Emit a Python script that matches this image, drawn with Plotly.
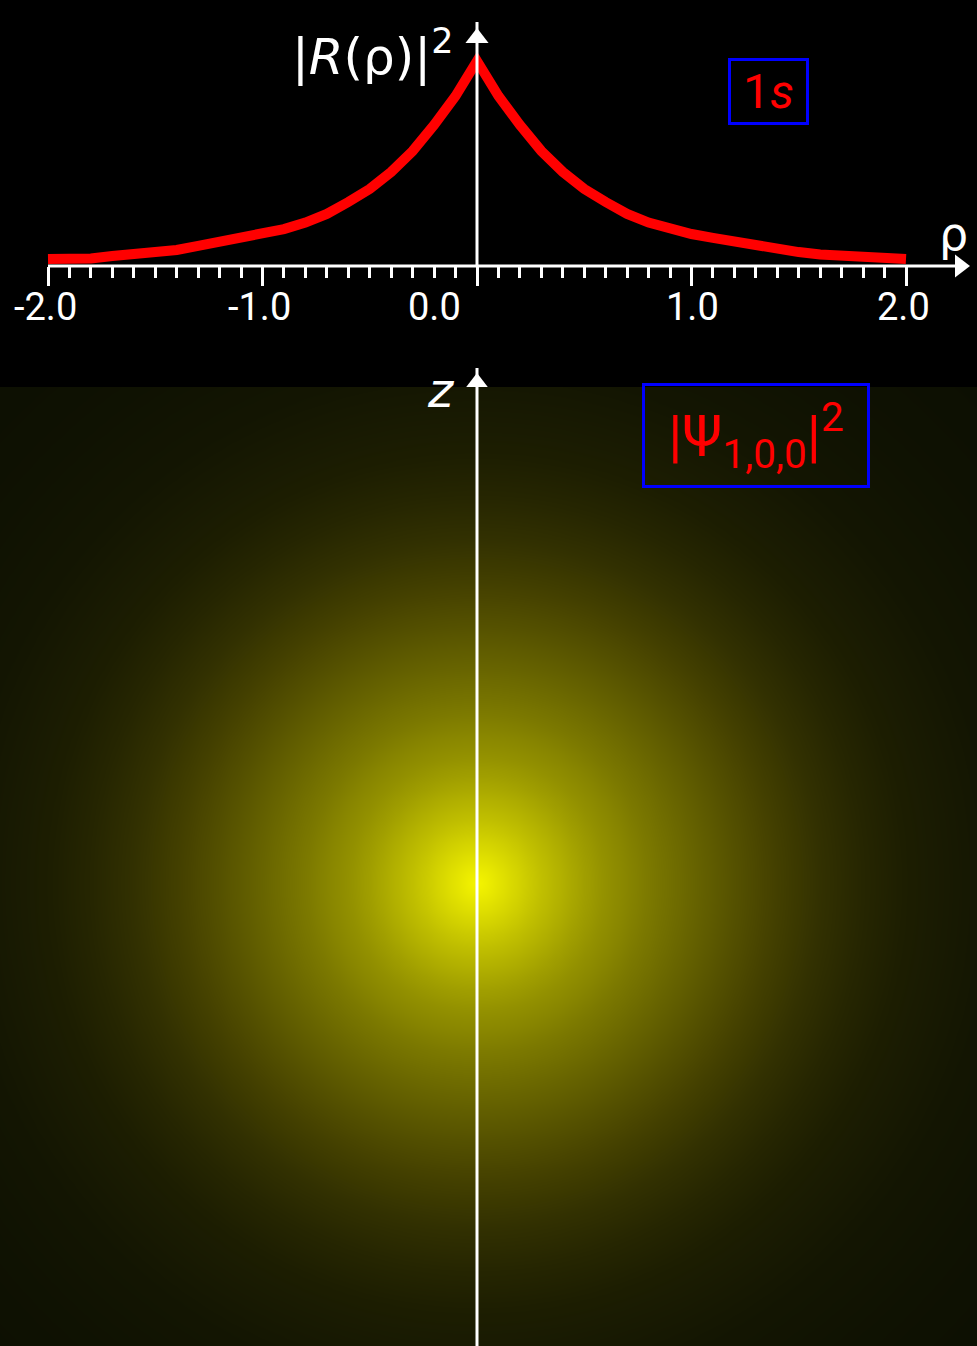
import numpy as np
import plotly.graph_objects as go

# ---------------- data ----------------
rho = [-2.0, -1.9, -1.8, -1.7, -1.6, -1.5, -1.4, -1.3, -1.2, -1.1, -1.0,
       -0.9, -0.8, -0.7, -0.6, -0.5, -0.4, -0.3, -0.2, -0.1, 0.0,
       0.1, 0.2, 0.3, 0.4, 0.5, 0.6, 0.7, 0.8, 0.9, 1.0,
       1.1, 1.2, 1.3, 1.4, 1.5, 1.6, 1.7, 1.8, 1.9, 2.0]
R2 = [0.034, 0.034, 0.037, 0.049, 0.056, 0.068, 0.078, 0.098, 0.117, 0.137, 0.156,
      0.180, 0.212, 0.254, 0.312, 0.376, 0.459, 0.561, 0.688, 0.829, 1.000,
      0.829, 0.688, 0.561, 0.459, 0.376, 0.312, 0.254, 0.212, 0.180, 0.156,
      0.137, 0.117, 0.098, 0.078, 0.068, 0.056, 0.049, 0.037, 0.034, 0.034]

major_ticks = [-2.0, -1.0, 0.0, 1.0, 2.0]
tick_labels = ["-2.0", "-1.0", "0.0", "1.0", "2.0"]
minor_ticks = [-1.9, -1.8, -1.7, -1.6, -1.5, -1.4, -1.3, -1.2, -1.1,
               -0.9, -0.8, -0.7, -0.6, -0.5, -0.4, -0.3, -0.2, -0.1,
               0.1, 0.2, 0.3, 0.4, 0.5, 0.6, 0.7, 0.8, 0.9,
               1.1, 1.2, 1.3, 1.4, 1.5, 1.6, 1.7, 1.8, 1.9]

# radial brightness profile of the |Psi_100|^2 glow
glow_r = [0.0, 0.1, 0.2, 0.3, 0.4, 0.5, 0.6, 0.7, 0.8, 0.9, 1.0,
          1.2, 1.4, 1.6, 1.8, 2.0, 2.4, 2.8, 3.3]
glow_b = [245, 228, 210, 192, 176, 160, 146, 135, 123, 113, 103,
          84, 66, 50, 38, 29, 20, 16, 13]

title_text = "|<i>R</i>(ρ)|<sup>2</sup>"
x_label = "ρ"
z_label = "<i>z</i>"
orbital_label = "1<i>s</i>"
psi_label = "|Ψ<sub>1,0,0</sub>|<sup>2</sup>"

# ---------------- layout geometry ----------------
W, H = 977, 1346
SC = 214.5          # px per unit along rho / x / z
SY = 205.0          # px per unit of |R|^2
X0 = 477            # pixel column of rho = 0
AXY = 266           # pixel row of top axis
SPLIT = 387         # pixel row where lower panel starts
ZC = 883            # pixel row of nucleus in lower panel


def py(p):
    return 1 - p / H


def pxp(p):
    return p / W


def top_y(p):
    return (AXY - p) / SY


x_range = [-X0 / SC, (W - X0) / SC]
top_dom = [1 - SPLIT / H, 1]
top_range = [-(SPLIT - AXY) / SY, AXY / SY]
bot_dom = [0, 1 - SPLIT / H]
bot_range = [-(H - ZC) / SC, (ZC - SPLIT) / SC]

# heatmap table built from the read radial profile
gx = np.arange(-2.34, 2.44, 0.02)
gy = np.arange(-2.26, 2.40, 0.02)
GX, GY = np.meshgrid(gx, gy)
Z = np.interp(np.sqrt(GX ** 2 + GY ** 2), glow_r, glow_b)

fig = go.Figure()
fig.add_trace(go.Heatmap(
    x=gx, y=gy, z=Z, zmin=13, zmax=245, zsmooth="best", showscale=False,
    colorscale=[[0.0, "rgb(12,15,2)"], [0.25, "rgb(72,68,0)"], [1.0, "rgb(245,245,0)"]],
    xaxis="x2", yaxis="y2", hoverinfo="skip"))
fig.add_trace(go.Scatter(
    x=rho, y=R2, mode="lines", line=dict(color="#ff0000", width=10),
    xaxis="x", yaxis="y", hoverinfo="skip"))

# axis lines
shapes = [
    dict(type="line", xref="x", yref="y", x0=major_ticks[0], x1=(958 - X0) / SC,
         y0=0, y1=0, line=dict(color="white", width=3), layer="above"),
    dict(type="line", xref="x", yref="y", x0=0, x1=0, y0=0, y1=top_y(22),
         line=dict(color="white", width=3), layer="above"),
    dict(type="line", xref="x2", yref="paper", x0=0, x1=0, y0=-0.01, y1=py(368),
         line=dict(color="white", width=3), layer="above"),
]
# arrowheads
fig.add_trace(go.Scatter(
    x=[(960 - X0) / SC, 0, 0], y=[0, top_y(38), top_y(383)],
    mode="markers", marker=dict(symbol=["triangle-right", "triangle-up", "triangle-up"],
                                size=20, color="white", line=dict(width=0)),
    xaxis="x", yaxis="y", cliponaxis=False, hoverinfo="skip"))

ann = []
shifts = [-3, -3, -43, 1, -3]
for v, t, s in zip(major_ticks, tick_labels, shifts):
    ann.append(dict(x=v, y=py(307), xref="x", yref="paper", text=t, showarrow=False,
                    xshift=s, xanchor="center", yanchor="middle",
                    font=dict(family="Roboto", size=38, color="white")))
ann.append(dict(x=pxp(456), y=py(54), xref="paper", yref="paper", text=title_text,
                showarrow=False, xanchor="right", yanchor="middle",
                font=dict(family="DejaVu Sans", size=50, color="white")))
ann.append(dict(x=pxp(953), y=py(234), xref="paper", yref="paper", text=x_label,
                showarrow=False, xanchor="center", yanchor="middle",
                font=dict(family="DejaVu Sans", size=46, color="white")))
ann.append(dict(x=pxp(441), y=py(390), xref="paper", yref="paper", text=z_label,
                showarrow=False, xanchor="center", yanchor="middle",
                font=dict(family="DejaVu Sans", size=48, color="white")))
ann.append(dict(x=pxp(768.5), y=py(91.5), xref="paper", yref="paper", text=orbital_label,
                showarrow=False, xanchor="center", yanchor="middle",
                width=75, height=61, borderpad=0, bordercolor="#0000ff", borderwidth=3,
                font=dict(family="Roboto", size=48, color="#ff0000")))
ann.append(dict(x=pxp(756), y=py(435.5), xref="paper", yref="paper", text=psi_label,
                showarrow=False, xanchor="center", yanchor="middle",
                width=222, height=99, borderpad=0, bordercolor="#0000ff", borderwidth=3,
                font=dict(family="Roboto", size=58, color="#ff0000")))

fig.update_layout(
    width=W, height=H, margin=dict(l=0, r=0, t=0, b=0),
    paper_bgcolor="black", plot_bgcolor="rgba(0,0,0,0)", showlegend=False,
    xaxis=dict(range=x_range, domain=[0, 1], anchor="free", position=py(AXY),
               showgrid=False, zeroline=False, showline=False, showticklabels=False,
               ticks="outside", tickmode="array", tickvals=major_ticks,
               ticklen=19, tickwidth=3, tickcolor="white", fixedrange=True,
               minor=dict(tickmode="array", tickvals=minor_ticks, ticks="outside",
                          ticklen=11, tickwidth=3, tickcolor="white", showgrid=False)),
    yaxis=dict(domain=top_dom, range=top_range, visible=False, fixedrange=True),
    xaxis2=dict(range=x_range, domain=[0, 1], anchor="y2", visible=False, fixedrange=True),
    yaxis2=dict(domain=bot_dom, range=bot_range, anchor="x2", visible=False, fixedrange=True),
    annotations=ann,
    shapes=shapes,
)

fig.write_html("out.html")
